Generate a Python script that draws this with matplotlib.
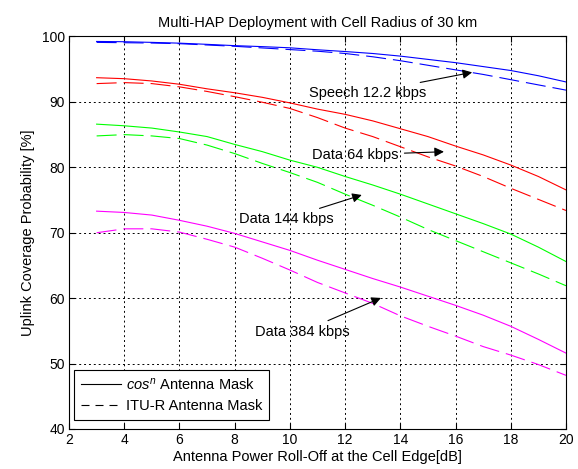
import numpy as np
import matplotlib
matplotlib.use('Agg')
import matplotlib.pyplot as plt

plt.rcParams['font.family'] = ['Liberation Sans', 'DejaVu Sans']
plt.rcParams['mathtext.fontset'] = 'custom'
plt.rcParams['mathtext.rm'] = 'Liberation Sans'
plt.rcParams['mathtext.it'] = 'Liberation Sans:italic'

# roll-off at cell edge [dB]
rolloff = [3, 4, 5, 6, 7, 8, 9, 10, 11, 12, 13, 14, 15, 16, 17, 18, 19, 20]

# uplink coverage probability [%], cos^n mask (solid) and ITU-R mask (dashed)
speech_cos = [99.24, 99.2, 99.1, 98.98, 98.8, 98.6, 98.45, 98.27, 97.97,
              97.7, 97.4, 97.0, 96.5, 96.0, 95.4, 94.8, 94.0, 93.05]
speech_itu = [99.1, 99.05, 99.0, 98.9, 98.7, 98.5, 98.25, 98.0, 97.75,
              97.4, 96.9, 96.3, 95.6, 94.9, 94.2, 93.4, 92.6, 91.8]
d64_cos = [93.7, 93.55, 93.2, 92.7, 92.0, 91.4, 90.7, 89.85, 88.9,
           88.1, 87.1, 85.9, 84.7, 83.25, 81.9, 80.35, 78.6, 76.55]
d64_itu = [92.8, 92.95, 92.8, 92.3, 91.6, 90.8, 89.95, 89.0, 87.6,
           86.0, 84.7, 83.15, 81.6, 80.2, 78.6, 76.8, 75.1, 73.4]
d144_cos = [86.6, 86.35, 86.0, 85.4, 84.7, 83.5, 82.4, 81.1, 80.0,
            78.6, 77.3, 75.9, 74.4, 72.9, 71.4, 69.8, 67.8, 65.6]
d144_itu = [84.8, 85.0, 84.8, 84.4, 83.4, 82.1, 80.6, 79.2, 77.7,
            75.9, 74.2, 72.4, 70.5, 68.8, 67.1, 65.4, 63.7, 61.9]
d384_cos = [73.3, 73.1, 72.7, 71.9, 71.0, 69.9, 68.6, 67.3, 65.8,
            64.4, 63.0, 61.7, 60.3, 58.9, 57.4, 55.7, 53.7, 51.6]
d384_itu = [70.0, 70.6, 70.6, 70.1, 69.0, 67.8, 66.1, 64.3, 62.4,
            60.8, 59.2, 57.3, 55.7, 54.2, 52.6, 51.3, 49.85, 48.2]

series = [
    (speech_cos, speech_itu, 'blue'),
    (d64_cos, d64_itu, 'red'),
    (d144_cos, d144_itu, '#00ff00'),
    (d384_cos, d384_itu, 'magenta'),
]

FS = 10.5

fig = plt.figure(figsize=(5.78, 4.69), dpi=100)
ax = fig.add_axes([0.1194, 0.0853, 0.8598, 0.8369])

for solid, dashed, c in series:
    ax.plot(rolloff, solid, color=c, lw=0.8)
    ax.plot(rolloff, dashed, color=c, lw=0.8, dashes=(18, 6.3))

ax.set_xlim(2, 20)
ax.set_ylim(40, 100)
ax.set_xticks(np.arange(2, 21, 2))
ax.set_yticks(np.arange(40, 101, 10))
ax.grid(True, color='black', linestyle=(0, (2, 3)), linewidth=0.7)
ax.tick_params(direction='in', labelsize=10, length=4, top=True, right=True,
               labeltop=False, labelright=False, pad=3)
for s in ax.spines.values():
    s.set_linewidth(0.8)

ax.set_title('Multi-HAP Deployment with Cell Radius of 30 km', fontsize=FS, pad=7)
ax.set_xlabel('Antenna Power Roll-Off at the Cell Edge[dB]', fontsize=FS, labelpad=2)
ax.set_ylabel('Uplink Coverage Probability [%]', fontsize=FS, labelpad=5)

arrow = dict(arrowstyle='-|>', color='black', lw=0.8, mutation_scale=14)
ax.annotate('Speech 12.2 kbps', xy=(16.7, 94.6), xytext=(12.8, 91.4),
            ha='center', va='center', fontsize=FS, arrowprops=arrow)
ax.annotate('Data 64 kbps', xy=(15.68, 82.4), xytext=(12.38, 81.9),
            ha='center', va='center', fontsize=FS, arrowprops=arrow)
ax.annotate('Data 144 kbps', xy=(12.7, 75.9), xytext=(9.86, 72.1),
            ha='center', va='center', fontsize=FS, arrowprops=arrow)
ax.annotate('Data 384 kbps', xy=(13.39, 60.2), xytext=(10.46, 54.9),
            ha='center', va='center', fontsize=FS, arrowprops=arrow)

# legend entries in black
h1, = ax.plot([], [], color='black', lw=0.8)
h2, = ax.plot([], [], color='black', lw=0.8, dashes=(7.2, 5.4))
leg = ax.legend([h1, h2], ['$cos^n$ Antenna Mask', 'ITU-R Antenna Mask'],
                loc='lower left', bbox_to_anchor=(0.01, 0.023), borderaxespad=0,
                fontsize=FS, fancybox=False, framealpha=1, edgecolor='black',
                handlelength=2.8, handletextpad=0.3, labelspacing=0.5,
                borderpad=0.45)
leg.get_frame().set_linewidth(0.8)

fig.savefig('out.png', dpi=100, facecolor='white')
